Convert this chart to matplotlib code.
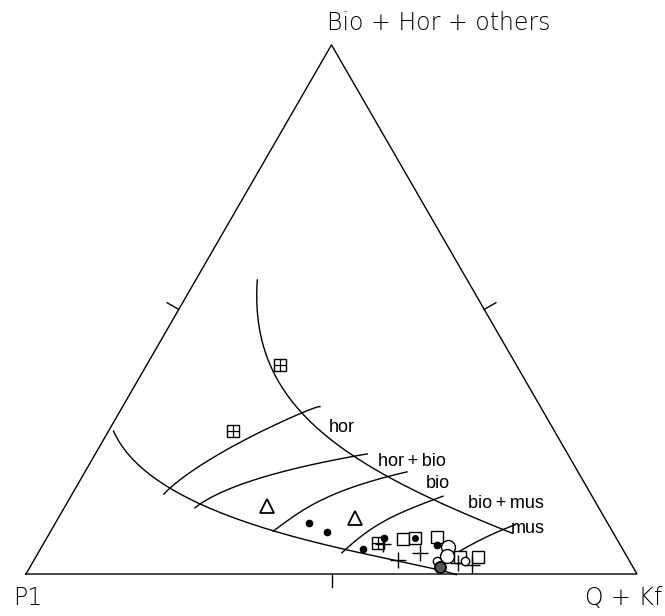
import numpy as np
import matplotlib
matplotlib.use("Agg")
import matplotlib.pyplot as plt

plt.rcParams['font.family'] = ['Liberation Sans', 'DejaVu Sans']

# Apex labels: top, left, right
apex_top = "Bio + Hor + others"
apex_left = "P1"
apex_right = "Q + Kf"

# Samples as (Bio+Hor+others %, Q+Kf %); P1 is the remainder
hatched_sq_T = [39.5, 27.0, 5.9]
hatched_sq_R = [21.8, 20.4, 54.7]
triangle_T = [12.9, 10.6]
triangle_R = [33.0, 48.6]
dot_T = [9.6, 7.9, 4.7, 6.8, 5.5]
dot_R = [41.5, 45.3, 52.8, 55.2, 64.5]
square_T = [6.6, 7.0, 3.2, 3.2]
square_R = [58.4, 63.8, 69.4, 72.4]
dotsq_T = [6.8]
dotsq_R = [60.3]
plus_T = [5.7, 4.0, 2.6, 2.1, 1.7]
plus_R = [55.6, 62.5, 59.6, 69.7, 72.2]
big_circle_T = [5.1, 3.4]
big_circle_R = [66.5, 67.2]
small_circle_T = [2.5, 2.5]
small_circle_R = [66.0, 70.6]
dark_circle_T = [1.3]
dark_circle_R = [67.1]

# Field boundaries (Bio+Hor+others %, Q+Kf %)
lower_T = [27.2, 21.2, 16.3, 13.0, 9.6, 6.8, 4.5, 2.65, 1.1, 0.0]
lower_R = [0.0, 8.1, 15.4, 22.5, 31.8, 41.4, 49.6, 58.3, 67.2, 69.4]
upper_T = [55.4, 49.9, 43.7, 39.1, 33.3, 30.1, 25.7, 22.5, 18.5, 14.2, 11.0, 7.9]
upper_R = [10.0, 13.0, 17.0, 20.4, 26.6, 30.2, 36.9, 42.1, 49.5, 59.4, 67.2, 75.2]
hor_T = [15.1, 23.1, 29.5, 31.6]
hor_R = [15.0, 20.7, 28.5, 32.3]
horbio_T = [12.5, 16.3, 19.7, 22.7]
horbio_R = [21.4, 25.6, 33.4, 44.5]
bio_T = [8.1, 11.7, 15.5, 19.3]
bio_R = [36.4, 39.0, 43.6, 52.7]
biomus_T = [4.0, 8.3, 11.5, 14.7]
biomus_R = [49.7, 52.1, 55.5, 60.9]
mus_T = [2.65, 6.4, 9.3]
mus_R = [67.3, 71.1, 75.4]

field_labels = ["hor", "hor\u2009+\u2009bio", "bio", "bio\u2009+\u2009mus", "mus"]
field_label_T = [26.8, 20.4, 16.25, 12.5, 7.75]
field_label_R = [36.2, 47.4, 57.3, 66.1, 75.5]

H = np.sqrt(3) / 2


def tern(T, R):
    T = np.asarray(T, float) / 100.0
    R = np.asarray(R, float) / 100.0
    return R + T / 2.0, T * H


def smooth(x, y, n=200):
    t = np.linspace(0, 1, len(x))
    tt = np.linspace(0, 1, n)
    deg = min(3, len(x) - 1)
    return (np.polyval(np.polyfit(t, x, deg), tt),
            np.polyval(np.polyfit(t, y, deg), tt))


fig = plt.figure(figsize=(6.65, 6.16), dpi=100)
ax = fig.add_axes([0, 0, 1, 1])
ax.set_xlim(-26 / 611, 639 / 611)
ax.set_ylim(-42 / 611, 574 / 611)
ax.set_aspect('equal')
ax.axis('off')

lw = 1.0
# triangle frame
fx, fy = tern([0, 0, 100, 0], [0, 100, 0, 0])
ax.plot(fx, fy, color='black', lw=lw, solid_joinstyle='miter')

# midpoint ticks pointing outward
tick_len = 0.022
mx, my = tern([0, 50, 50], [50, 50, 0])
c30, s30 = np.cos(np.radians(30)), np.sin(np.radians(30))
dirs = [(0.0, -1.0), (c30, s30), (-c30, s30)]
for x0, y0, (dx, dy) in zip(mx, my, dirs):
    ax.plot([x0, x0 + dx * tick_len], [y0, y0 + dy * tick_len], color='black', lw=lw)

# field boundaries
for T, R in [(lower_T, lower_R), (upper_T, upper_R), (hor_T, hor_R),
             (horbio_T, horbio_R), (bio_T, bio_R), (biomus_T, biomus_R),
             (mus_T, mus_R)]:
    xs, ys = smooth(*tern(T, R))
    ax.plot(xs, ys, color='black', lw=lw)

# samples
x, y = tern(hatched_sq_T, hatched_sq_R)
ax.plot(x, y, 's', ms=8, mfc='white', mec='black', mew=1.0, ls='none')
ax.plot(x, y, '+', ms=8, color='black', mew=0.9, ls='none')

x, y = tern(triangle_T, triangle_R)
ax.plot(x, y, '^', ms=10, mfc='white', mec='black', mew=1.3, ls='none')

x, y = tern(square_T, square_R)
ax.plot(x, y, 's', ms=8, mfc='white', mec='black', mew=1.0, ls='none')

x, y = tern(dotsq_T, dotsq_R)
ax.plot(x, y, 's', ms=8, mfc='white', mec='black', mew=1.0, ls='none')
ax.plot(x, y, 'o', ms=4, color='black', ls='none')

x, y = tern(plus_T, plus_R)
ax.plot(x, y, '+', ms=11, color='black', mew=1.0, ls='none')

x, y = tern(big_circle_T, big_circle_R)
ax.plot(x, y, 'o', ms=10, mfc='white', mec='black', mew=1.0, ls='none')

x, y = tern(small_circle_T, small_circle_R)
ax.plot(x, y, 'o', ms=6, mfc='white', mec='black', mew=1.0, ls='none')

x, y = tern(dark_circle_T, dark_circle_R)
ax.plot(x, y, 'o', ms=8, mfc='#555555', mec='black', mew=1.3, ls='none')

x, y = tern(dot_T, dot_R)
ax.plot(x, y, 'o', ms=4.5, color='black', ls='none')

# field names
for lab, T, R in zip(field_labels, field_label_T, field_label_R):
    x, y = tern(T, R)
    ax.text(x, y, lab, fontsize=13, ha='left', va='baseline')

# apex names
apex_font = dict(family=['DejaVu Sans'], fontweight='light')
fig.text(327 / 665, 1 - 30 / 616, apex_top, fontsize=17, ha='left', va='baseline', **apex_font)
fig.text(13 / 665, 1 - 605 / 616, apex_left, fontsize=17, ha='left', va='baseline', **apex_font)
fig.text(662 / 665, 1 - 605 / 616, apex_right, fontsize=17, ha='right', va='baseline', **apex_font)

fig.savefig("out.png", dpi=100)
